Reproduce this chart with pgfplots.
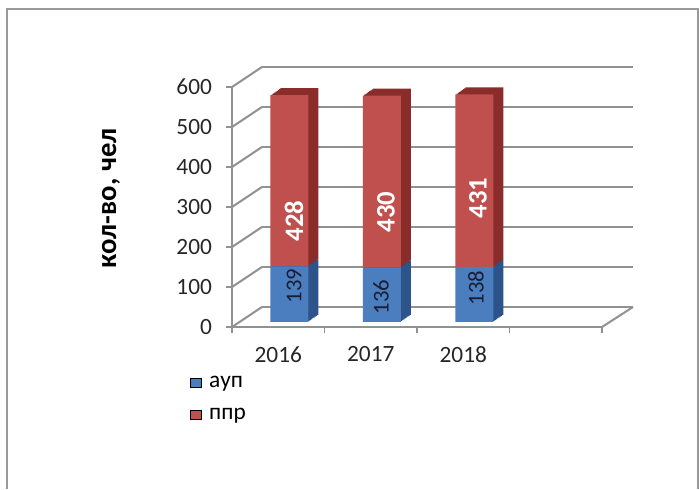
\documentclass[border=0pt]{standalone}
\usepackage{pgfplots}
\pgfplotsset{compat=1.18}
\usepackage{pgfplotstable}
\usepackage{fontspec}
\setmainfont{Carlito}

\definecolor{aup}{RGB}{74,126,190}
\definecolor{aupside}{RGB}{44,84,138}
\definecolor{ppr}{RGB}{192,80,77}
\definecolor{pprside}{RGB}{138,44,42}
\definecolor{gridc}{RGB}{145,145,145}
\definecolor{lblblue}{RGB}{25,30,55}

% values per year (ауп = bottom, ппр = top)
\pgfplotstableread{
x aup ppr
0 139 428
1 136 430
2 138 431
}\datatable

\pgfplotsset{
  base/.style={scale only axis, width=277.5pt, height=180pt,
    xmin=-0.5, xmax=3.5, ymin=0, ymax=600, anchor=south west, clip=false},
  barlayer/.style={base, hide axis, ybar stacked, bar width=28.5pt},
}

\begin{document}
\begin{tikzpicture}
\useasboundingbox (0,0) rectangle (524.25pt,366.75pt);
% frame
\draw[gray!80, line width=1.5pt] (7*0.75pt,0) -- (7*0.75pt,480*0.75pt) -- (698*0.75pt,480*0.75pt) -- (698*0.75pt,0);

% back wall grid
\begin{axis}[base, width=278.25pt, at={(262*0.75pt,182*0.75pt)},
  axis line style={draw=none}, tick style={draw=none},
  xtick=\empty, ytick={0,100,...,600}, yticklabels={},
  ymajorgrids, grid style={gridc, line width=1.5pt}]
\end{axis}

% side wall and floor edges
\foreach \v in {0,100,...,600}
  \draw[gridc, line width=1.5pt] (232*0.75pt,{(162+0.4*\v)*0.75pt}) -- (262*0.75pt,{(182+0.4*\v)*0.75pt});
\draw[gridc, line width=1.5pt] (602*0.75pt,162*0.75pt) -- (633*0.75pt,182*0.75pt);

% front axis, ticks, labels, legend
\begin{axis}[base, at={(232*0.75pt,162*0.75pt)},
  axis x line*=bottom, axis y line*=left,
  axis line style={gridc, line width=1.5pt, -},
  tick style={gridc, line width=1.2pt}, major tick length=4.5pt, tick align=outside,
  ytick={0,100,...,600},
  xtick={-0.5,0.5,...,3.5}, xticklabels={},
  extra x ticks={0,1,2}, extra x tick labels={2016,2017,2018},
  extra x tick style={major tick length=0pt, tick label style={yshift=-11pt}},
  tick label style={font=\fontsize{17.5}{21}\selectfont, text=black!85},
  /pgf/number format/assume math mode=true,
  yticklabel style={xshift=-7pt},
  ylabel={кол-во, чел},
  ylabel style={at={(axis description cs:-0.327,0.535)}, anchor=center,
    font=\bfseries\fontsize{21.5}{25}\selectfont},
  legend style={at={(axis description cs:-0.125,-0.18)}, anchor=north west,
    draw=none, fill=none, font=\fontsize{17.5}{21}\selectfont, row sep=10pt},
  legend cell align=left,
  legend image code/.code={\fill[#1] (0pt,-3.3pt) rectangle (8pt,3.3pt); \path (12pt,0pt);},
]
\addlegendimage{fill=aup}
\addlegendentry{ауп}
\addlegendimage{fill=ppr}
\addlegendentry{ппр}
\end{axis}

% depth of the bars
\foreach \k in {8,7,...,1} {
\begin{axis}[barlayer, at={({(243+1.25*\k)*0.75pt},{(167+0.875*\k)*0.75pt})}]
\addplot[fill=aupside, draw=none] table[x=x, y=aup] {\datatable};
\addplot[fill=pprside, draw=none] table[x=x, y=ppr] {\datatable};
\end{axis}
}

% front faces of the bars
\begin{axis}[barlayer, at={(243*0.75pt,167*0.75pt)}]
\addplot[fill=aup, draw=none] table[x=x, y=aup] {\datatable};
\addplot[fill=ppr, draw=none] table[x=x, y=ppr] {\datatable};
\end{axis}

% data labels
\begin{scope}[every node/.style={rotate=90, inner sep=0pt}]
\node[text=white, font=\bfseries\fontsize{20}{24}\selectfont] at (294*0.75pt,268*0.75pt) {428};
\node[text=white, font=\bfseries\fontsize{20}{24}\selectfont] at (386*0.75pt,277*0.75pt) {430};
\node[text=white, font=\bfseries\fontsize{20}{24}\selectfont] at (478*0.75pt,291*0.75pt) {431};
\node[text=lblblue, font=\fontsize{17}{20}\selectfont] at (294*0.75pt,203*0.75pt) {139};
\node[text=lblblue, font=\fontsize{17}{20}\selectfont] at (381*0.75pt,192*0.75pt) {136};
\node[text=lblblue, font=\fontsize{17}{20}\selectfont] at (476*0.75pt,201*0.75pt) {138};
\end{scope}
\end{tikzpicture}
\end{document}
